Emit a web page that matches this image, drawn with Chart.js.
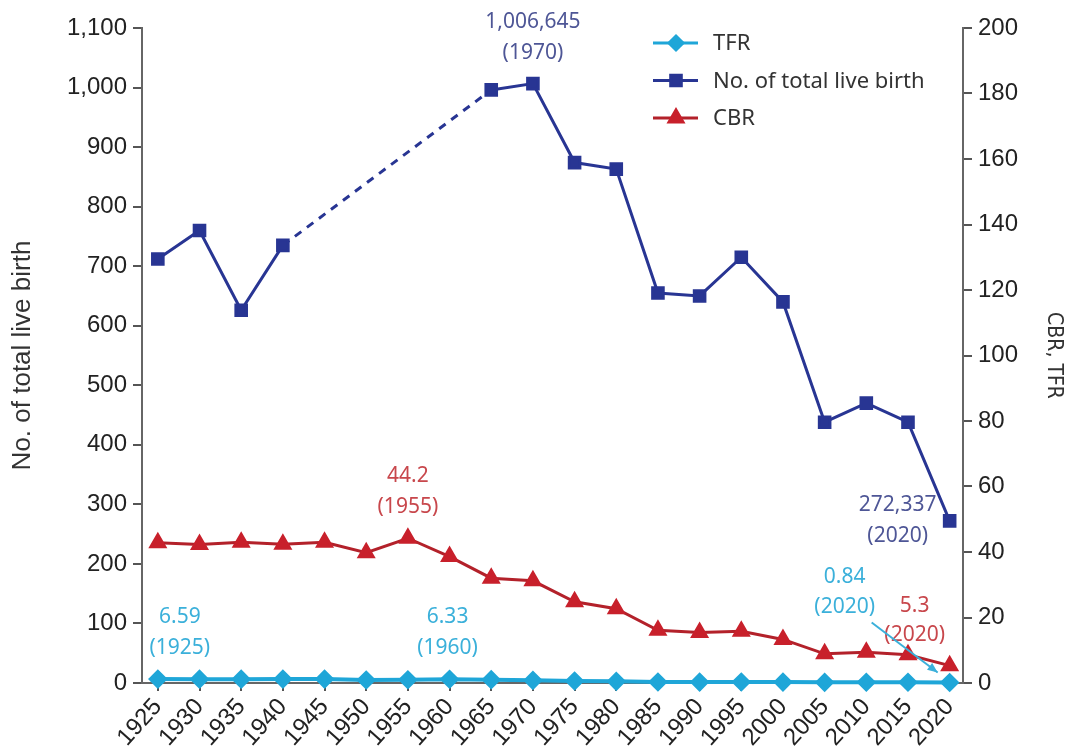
<!DOCTYPE html>
<html>
<head>
<meta charset="utf-8">
<script src="https://cdn.jsdelivr.net/npm/chart.js@4"></script>
<style>
  html, body { margin: 0; padding: 0; background: #fff; }
  #wrap { width: 1070px; height: 756px; position: relative; }
</style>
</head>
<body>
<div id="wrap"><canvas id="chart"></canvas></div>
<script>
// data (births in thousands, CBR per 1,000, TFR)
const years = [1925, 1930, 1935, 1940, 1945, 1950, 1955, 1960, 1965, 1970,
               1975, 1980, 1985, 1990, 1995, 2000, 2005, 2010, 2015, 2020];
const liveBirths = [712, 760, 626, 735, null, null, null, null, 996, 1006.645,
                    874, 863, 655, 650, 715, 640, 438, 470, 438, 272.337];
const cbr = [42.8, 42.3, 43.0, 42.4, 43.0, 39.8, 44.2, 38.6, 32.0, 31.2,
             24.8, 22.7, 16.1, 15.4, 15.8, 13.3, 8.9, 9.4, 8.6, 5.3];
const tfr = [6.59, 6.5, 6.45, 6.6, 6.6, 5.05, 5.4, 6.33, 5.6, 4.53,
             3.43, 2.82, 1.66, 1.57, 1.63, 1.48, 1.08, 1.23, 1.24, 0.84];

const leftTicks = { min: 0, max: 1100, step: 100 };
const rightTicks = { min: 0, max: 200, step: 20 };

const NAVY = '#283593';
const RED = '#c8202b';
const CYAN = '#1fa6d8';

// callouts: which series, which year, text lines, colour, offset from the point
const callouts = [
  { axis: 'y', values: liveBirths, year: 1970, lines: ['1,006,645', '(1970)'], color: '#4e5696', dx: 0, dy: [-62, -31] },
  { axis: 'y2', values: cbr, year: 1955, lines: ['44.2', '(1955)'], color: '#c8474c', dx: 0, dy: [-62, -31] },
  { axis: 'y', values: tfr, year: 1925, lines: ['6.59', '(1925)'], color: '#3bb0da', dx: 22, dy: [-62, -31] },
  { axis: 'y', values: tfr, year: 1960, lines: ['6.33', '(1960)'], color: '#3bb0da', dx: -2, dy: [-62, -31] },
  { axis: 'y', values: liveBirths, year: 2020, lines: ['272,337', '(2020)'], color: '#4e5696', dx: -52, dy: [-16, 15] },
  { axis: 'y', values: tfr, year: 2020, lines: ['0.84', '(2020)'], color: '#3bb0da', dx: -105, dy: [-105, -75] },
  { axis: 'y2', values: cbr, year: 2020, lines: ['5.3', '(2020)'], color: '#c8474c', dx: -35, dy: [-60, -31] }
];

const toPoints = arr => years.map((yr, i) => ({ x: yr, y: arr[i] }));
const dashGap = (ctx, val) => (ctx.p0.skip || ctx.p1.skip ? val : undefined);

const calloutPlugin = {
  id: 'callouts',
  afterDatasetsDraw(chart) {
    const ctx = chart.ctx;
    const xs = chart.scales.x;
    ctx.save();
    ctx.font = '21px "Noto Sans", sans-serif';
    ctx.textAlign = 'center';
    ctx.textBaseline = 'middle';
    callouts.forEach(c => {
      const i = years.indexOf(c.year);
      const px = xs.getPixelForValue(c.year);
      const py = chart.scales[c.axis].getPixelForValue(c.values[i]);
      ctx.fillStyle = c.color;
      c.lines.forEach((t, k) => ctx.fillText(t, px + c.dx, py + c.dy[k]));
    });
    // arrow for TFR 2020
    const i = years.indexOf(2020);
    const ax = xs.getPixelForValue(2020);
    const ay = chart.scales.y.getPixelForValue(tfr[i]);
    const x0 = ax - 78, y0 = ay - 60, x1 = ax - 12, y1 = ay - 10;
    ctx.strokeStyle = '#3bb0da';
    ctx.fillStyle = '#3bb0da';
    ctx.lineWidth = 2;
    ctx.beginPath();
    ctx.moveTo(x0, y0);
    ctx.lineTo(x1, y1);
    ctx.stroke();
    const ang = Math.atan2(y1 - y0, x1 - x0);
    ctx.beginPath();
    ctx.moveTo(x1, y1);
    ctx.lineTo(x1 - 11 * Math.cos(ang - 0.4), y1 - 11 * Math.sin(ang - 0.4));
    ctx.lineTo(x1 - 11 * Math.cos(ang + 0.4), y1 - 11 * Math.sin(ang + 0.4));
    ctx.closePath();
    ctx.fill();
    ctx.restore();
  }
};

// legend with line + marker, like the original
const legendPlugin = {
  id: 'lineLegend',
  afterDraw(chart) {
    const ctx = chart.ctx;
    const x = 653, y0 = 43, gap = 37.5;
    ctx.save();
    ctx.font = '22px "Noto Sans", sans-serif';
    ctx.textBaseline = 'middle';
    chart.data.datasets.forEach((ds, k) => {
      const y = y0 + k * gap;
      ctx.strokeStyle = ds.borderColor;
      ctx.lineWidth = 3;
      ctx.setLineDash([]);
      ctx.beginPath();
      ctx.moveTo(x, y);
      ctx.lineTo(x + 45, y);
      ctx.stroke();
      ctx.fillStyle = ds.pointBackgroundColor;
      ctx.strokeStyle = ds.pointBackgroundColor;
      Chart.helpers.drawPoint(ctx, { pointStyle: ds.pointStyle, radius: ds.pointRadius, borderWidth: 1, rotation: 0 }, x + 23, y);
      ctx.fillStyle = '#333';
      ctx.fillText(ds.label, x + 60, y + 1);
    });
    ctx.restore();
  }
};

const tickFont = { family: '"Liberation Sans", Arial, sans-serif', size: 24 };

new Chart(document.getElementById('chart'), {
  type: 'line',
  data: {
    datasets: [
      {
        label: 'TFR',
        data: toPoints(tfr),
        yAxisID: 'y',
        borderColor: CYAN,
        backgroundColor: CYAN,
        pointBackgroundColor: CYAN,
        pointBorderColor: CYAN,
        pointStyle: 'rectRot',
        pointRadius: 7,
        borderWidth: 4,
        clip: false
      },
      {
        label: 'No. of total live birth',
        data: toPoints(liveBirths),
        yAxisID: 'y',
        borderColor: NAVY,
        backgroundColor: NAVY,
        pointBackgroundColor: NAVY,
        pointBorderColor: NAVY,
        pointStyle: 'rect',
        pointRadius: 7.5,
        borderWidth: 3,
        spanGaps: true,
        segment: { borderDash: ctx => dashGap(ctx, [8, 7]) },
        clip: false
      },
      {
        label: 'CBR',
        data: toPoints(cbr),
        yAxisID: 'y2',
        borderColor: '#b3212a',
        backgroundColor: RED,
        pointBackgroundColor: RED,
        pointBorderColor: RED,
        pointStyle: 'triangle',
        pointRadius: 8,
        borderWidth: 3,
        clip: false
      }
    ]
  },
  options: {
    responsive: true,
    maintainAspectRatio: false,
    animation: false,
    layout: { padding: { top: 28, bottom: 0, left: 0, right: 0 } },
    plugins: {
      legend: { display: false },
      tooltip: { enabled: false }
    },
    scales: {
      x: {
        type: 'linear',
        min: 1923.1,
        max: 2021.6,
        afterBuildTicks: scale => { scale.ticks = years.map(v => ({ value: v })); },
        afterFit: scale => { scale.height = 73; },
        grid: { drawOnChartArea: false, drawTicks: true, tickLength: 8, color: '#555', lineWidth: 2 },
        border: { color: '#666', width: 2 },
        ticks: {
          autoSkip: false,
          minRotation: 48,
          maxRotation: 48,
          padding: 2,
          color: '#222',
          font: tickFont,
          callback: v => String(v)
        }
      },
      y: {
        position: 'left',
        min: leftTicks.min,
        max: leftTicks.max,
        afterFit: scale => { scale.width = 142; },
        grid: { drawOnChartArea: false, tickLength: 9, color: '#555', lineWidth: 2 },
        border: { color: '#666', width: 2 },
        ticks: { stepSize: leftTicks.step, color: '#222', font: tickFont, padding: 6 },
        title: {
          display: true,
          text: 'No. of total live birth',
          color: '#333',
          font: { family: '"Liberation Sans", Arial, sans-serif', size: 26 },
          padding: { top: 7, bottom: 4 }
        }
      },
      y2: {
        position: 'right',
        min: rightTicks.min,
        max: rightTicks.max,
        afterFit: scale => { scale.width = 107; },
        grid: { drawOnChartArea: false, tickLength: 9, color: '#555', lineWidth: 2 },
        border: { color: '#666', width: 2 },
        ticks: { stepSize: rightTicks.step, color: '#222', font: tickFont, padding: 6 },
        title: {
          display: true,
          text: 'CBR, TFR',
          color: '#333',
          font: { family: '"Liberation Sans Narrow", "DejaVu Sans Condensed", sans-serif', size: 21 },
          padding: { top: 4, bottom: 4 }
        }
      }
    }
  },
  plugins: [calloutPlugin, legendPlugin]
});
</script>
</body>
</html>
